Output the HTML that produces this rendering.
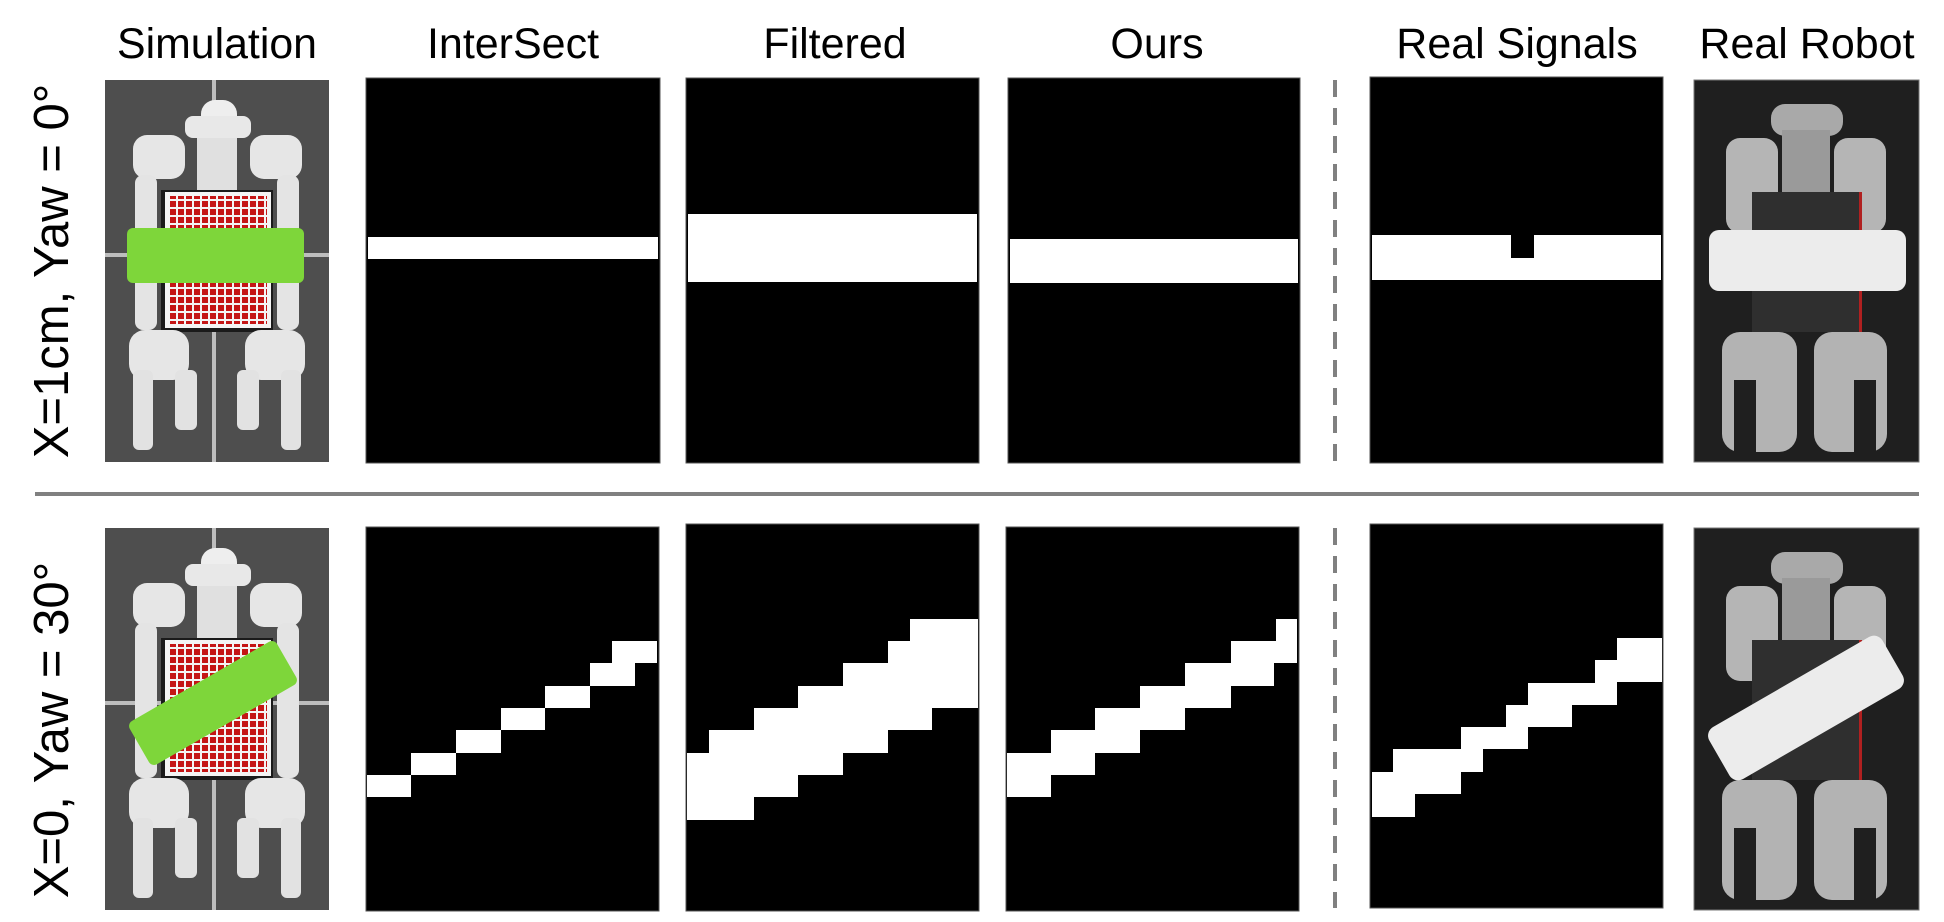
<!DOCTYPE html>
<html><head><meta charset="utf-8"><style>
html,body{margin:0;padding:0;background:#fff;width:1944px;height:922px;overflow:hidden}
svg{display:block}
text{font-family:"Liberation Sans",sans-serif;fill:#000}
</style></head><body>
<svg id="fig" width="1944" height="922" viewBox="0 0 1944 922" xmlns="http://www.w3.org/2000/svg">
<defs>
<pattern id="grid" x="0" y="0" width="8" height="8" patternUnits="userSpaceOnUse">
  <rect width="8" height="8" fill="#f4f4f4"/>
  <rect x="1" y="1" width="6" height="6" fill="#c41515"/>
</pattern>
<g id="simrobot">
  <rect x="0" y="0" width="224" height="382" fill="#4e4e4e"/>
  <rect x="107" y="0" width="4" height="382" fill="#bdbdbd"/>
  <rect x="0" y="173" width="224" height="4" fill="#bdbdbd"/>
  <rect x="96" y="20" width="36" height="42" rx="14" fill="#eeeeee"/>
  <rect x="80" y="36" width="66" height="22" rx="8" fill="#e8e8e8"/>
  <rect x="28" y="55" width="52" height="44" rx="14" fill="#e6e6e6"/>
  <rect x="145" y="55" width="52" height="44" rx="14" fill="#e6e6e6"/>
  <rect x="30" y="95" width="22" height="155" rx="8" fill="#e4e4e4"/>
  <rect x="172" y="95" width="22" height="155" rx="8" fill="#e4e4e4"/>
  <rect x="92" y="58" width="40" height="60" fill="#e0e0e0"/>
  <rect x="56" y="110" width="112" height="142" fill="#1a1a1a"/>
  <rect x="60" y="112" width="106" height="136" fill="#f4f4f4"/>
  <rect x="64" y="116" width="98" height="128" fill="url(#grid)"/>
  <rect x="24" y="250" width="60" height="50" rx="16" fill="#e6e6e6"/>
  <rect x="140" y="250" width="60" height="50" rx="16" fill="#e6e6e6"/>
  <rect x="28" y="290" width="20" height="80" rx="6" fill="#e2e2e2"/>
  <rect x="176" y="290" width="20" height="80" rx="6" fill="#e2e2e2"/>
  <rect x="70" y="290" width="22" height="60" rx="6" fill="#e2e2e2"/>
  <rect x="132" y="290" width="22" height="60" rx="6" fill="#e2e2e2"/>
</g>
<g id="realrobot">
  <rect x="0" y="0" width="225" height="382" fill="#1f1f1f" stroke="#777" stroke-width="1"/>
  <rect x="77" y="24" width="72" height="32" rx="14" fill="#a9a9a9"/>
  <rect x="32" y="58" width="52" height="95" rx="14" fill="#b5b5b5"/>
  <rect x="140" y="58" width="52" height="95" rx="14" fill="#b5b5b5"/>
  <rect x="88" y="50" width="48" height="65" fill="#9a9a9a"/>
  <rect x="58" y="112" width="109" height="140" fill="#2f2f2f"/>
  <rect x="165" y="112" width="3" height="140" fill="#b02020"/>
  <rect x="28" y="252" width="75" height="120" rx="18" fill="#b3b3b3"/>
  <rect x="120" y="252" width="73" height="120" rx="18" fill="#b3b3b3"/>
  <rect x="40" y="300" width="22" height="80" fill="#1f1f1f"/>
  <rect x="160" y="300" width="22" height="80" fill="#1f1f1f"/>
</g>
</defs>

<!-- headers -->
<text x="217" y="58" font-size="43" text-anchor="middle" textLength="200" lengthAdjust="spacingAndGlyphs">Simulation</text>
<text x="513" y="58" font-size="43" text-anchor="middle">InterSect</text>
<text x="835" y="58" font-size="43" text-anchor="middle">Filtered</text>
<text x="1157" y="58" font-size="43" text-anchor="middle">Ours</text>
<text x="1517" y="58" font-size="43" text-anchor="middle">Real Signals</text>
<text x="1807" y="58" font-size="43" text-anchor="middle">Real Robot</text>

<!-- row labels -->
<text transform="translate(68,271) rotate(-90)" font-size="49" text-anchor="middle">X=1cm, Yaw = 0°</text>
<text transform="translate(68,730) rotate(-90)" font-size="49" text-anchor="middle">X=0, Yaw = 30°</text>

<!-- separator -->
<rect x="35" y="492" width="1884" height="4" fill="#808080"/>
<line x1="1335" y1="80" x2="1335" y2="462" stroke="#808080" stroke-width="4" stroke-dasharray="17,11"/>
<line x1="1335" y1="528" x2="1335" y2="908" stroke="#808080" stroke-width="4" stroke-dasharray="17,11"/>

<!-- row 1 -->
<g transform="translate(105,80)">
  <use href="#simrobot"/>
  <rect x="22" y="148" width="177" height="55" rx="6" fill="#7ed63a"/>
</g>
<g>
  <rect x="366" y="78" width="294" height="385" fill="#000" stroke="#555" stroke-width="1"/>
  <rect x="368" y="237" width="290" height="22" fill="#fff"/>
</g>
<g>
  <rect x="686" y="78" width="293" height="385" fill="#000" stroke="#555" stroke-width="1"/>
  <rect x="688" y="214" width="289" height="68" fill="#fff"/>
</g>
<g>
  <rect x="1008" y="78" width="292" height="385" fill="#000" stroke="#555" stroke-width="1"/>
  <rect x="1010" y="239" width="288" height="44" fill="#fff"/>
</g>
<g>
  <rect x="1370" y="77" width="293" height="386" fill="#000" stroke="#555" stroke-width="1"/>
  <rect x="1372" y="235" width="289" height="45" fill="#fff"/>
  <rect x="1511" y="235" width="23" height="23" fill="#000"/>
</g>
<g transform="translate(1694,80)">
  <use href="#realrobot"/>
  <rect x="15" y="150" width="197" height="61" rx="10" fill="#ececec"/>
</g>

<!-- row 2 -->
<g transform="translate(105,528)">
  <use href="#simrobot"/>
  <rect x="23" y="150" width="170" height="50" rx="6" fill="#7ed63a" transform="rotate(-30 108 175)"/>
</g>
<g>
  <rect x="366" y="527" width="293" height="384" fill="#000" stroke="#555" stroke-width="1"/>
  <path fill="#fff" d="M367,775H411V753H456V730H501V708H545V686H590V663H612V641H657V663H635V686H590V708H545V730H501V753H456V775H411V797H367Z"/>
</g>
<g>
  <rect x="686" y="524" width="293" height="387" fill="#000" stroke="#555" stroke-width="1"/>
  <path fill="#fff" d="M687,753H709V730H754V708H798V686H843V663H888V641H910V619H978V708H932V730H888V753H843V775H798V797H754V820H687Z"/>
</g>
<g>
  <rect x="1006" y="527" width="293" height="384" fill="#000" stroke="#555" stroke-width="1"/>
  <path fill="#fff" d="M1007,753H1051V730H1095V708H1140V686H1185V663H1231V641H1276V619H1297V663H1274V686H1231V708H1185V730H1140V753H1095V775H1051V797H1007Z"/>
</g>
<g>
  <rect x="1370" y="524" width="293" height="384" fill="#000" stroke="#555" stroke-width="1"/>
  <path fill="#fff" d="M1372,772H1393V749H1461V727H1506V705H1528V683H1595V660H1617V638H1662V682H1617V705H1572V727H1528V749H1483V772H1461V794H1415V817H1372Z"/>
</g>
<g transform="translate(1694,528)">
  <use href="#realrobot"/>
  <rect x="12" y="150" width="200" height="60" rx="10" fill="#ececec" transform="rotate(-30 112 180)"/>
</g>
</svg>
</body></html>
